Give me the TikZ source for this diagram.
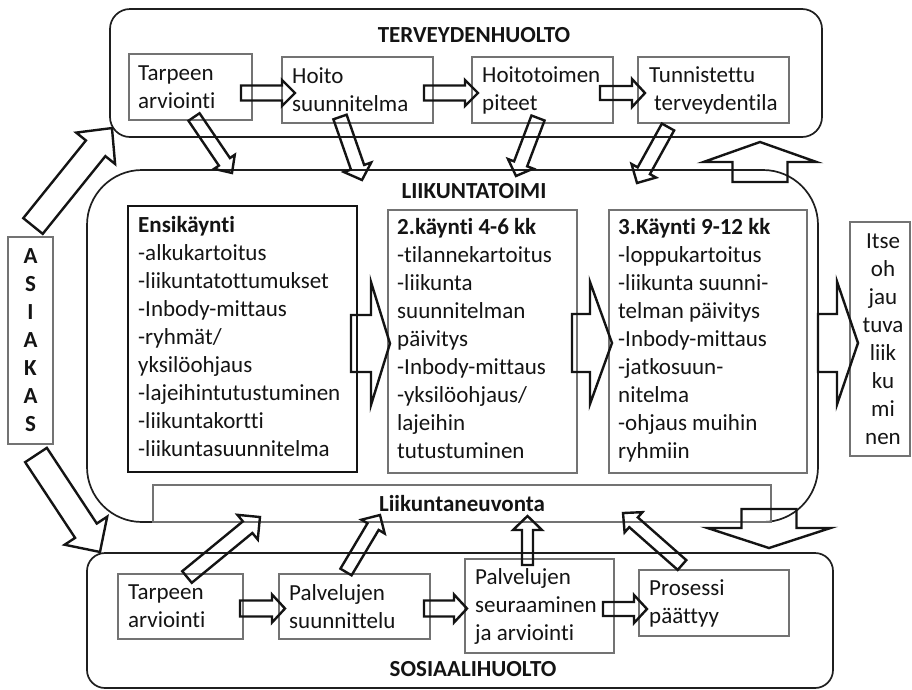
\documentclass[tikz,border=0pt]{standalone}
\usepackage{fontspec}
\setmainfont{Carlito}[Ligatures={NoCommon,NoContextual}]
\usetikzlibrary{calc}
\newcommand\fsz{\fontsize{23}{28}\selectfont}
\newcommand\blockarrow[5]{%
  \path let \p1=(#1), \p2=(#2) in \pgfextra{%
    \pgfmathsetmacro\baTmpA{atan2((\y2)-(\y1),(\x2)-(\x1))}%
    \pgfmathsetmacro\baTmpL{veclen((\x2)-(\x1),(\y2)-(\y1))}%
    \xdef\baAng{\baTmpA}\xdef\baLen{\baTmpL}%
    \xdef\baX{\x1}\xdef\baY{\y1}};%
  \draw[blockarr, shift={(\baX,\baY)}, rotate=\baAng]
    (0pt,-#3pt) -- ({\baLen pt-#5pt},-#3pt) -- ({\baLen pt-#5pt},-#4pt) -- (\baLen pt,0pt)
    -- ({\baLen pt-#5pt},#4pt) -- ({\baLen pt-#5pt},#3pt) -- (0pt,#3pt) -- cycle;%
}
\begin{document}
\begin{tikzpicture}[x=1pt,y=-1pt,
 container/.style={draw=black!88, line width=1.7pt, rounded corners=#1, inner sep=0pt, outer sep=0pt},
 sbox/.style={draw=black!55, line width=1.1pt, inner sep=0pt, outer sep=0pt},
 bigbox/.style={draw=black!55, line width=1.3pt, inner sep=0pt, outer sep=0pt},
 firstbox/.style={draw=black!92, line width=2.8pt, inner sep=0pt, outer sep=0pt},
 txt/.style={font=\fsz, text=black!92, inner sep=0pt, align=left, anchor=west},
 ctxt/.style={font=\fsz, text=black!92, inner sep=0pt, align=center},
 ttl/.style={font=\fsz\bfseries, text=black!92, inner sep=0pt},
 blockarr/.style={draw=black!92, line width=2.4pt, line join=miter, miter limit=10},
]
\useasboundingbox (0,0) rectangle (912,689);
\fill[white] (0,0) rectangle (912,689);

% containers
\node[container=20pt, minimum width=712pt, minimum height=128pt] (terv) at (466,73) {};
\node[container=55pt, minimum width=731pt, minimum height=352pt] (liik) at (452.5,346) {};
\node[container=18pt, minimum width=746pt, minimum height=135pt] (sos) at (460,620.5) {};

\node[ttl] (ttlT) at (474,35) {TERVEYDENHUOLTO};
\node[ttl] (ttlL) at (474,191) {LIIKUNTATOIMI};
\node[ttl] (ttlS) at (473,669) {SOSIAALIHUOLTO};

\node[sbox, minimum width=618pt, minimum height=37pt, font=\fsz\bfseries, text=black!92] (neuv) at (462,503.5) {Liikuntaneuvonta};

% top boxes
\node[sbox, minimum width=123pt, minimum height=66pt] (t1) at (190.5,87) {};
\node[txt] (t1l) at ($(t1.west)+(9,0)$) {Tarpeen\\arviointi};
\node[sbox, minimum width=151pt, minimum height=66pt] (t2) at (357.5,90) {};
\node[txt] (t2l) at ($(t2.west)+(10,0)$) {Hoito\\suunnitelma};
\node[sbox, minimum width=141pt, minimum height=66pt] (t3) at (542.5,90) {};
\node[txt] (t3l) at ($(t3.west)+(10,0)$) {Hoitotoimen\\piteet};
\node[sbox, minimum width=151pt, minimum height=66pt] (t4) at (713.5,90) {};
\node[txt] (t4l) at ($(t4.west)+(11,0)$) {Tunnistettu\\\hspace*{5pt}terveydentila};

% big boxes
\node[firstbox, minimum width=229pt, minimum height=266pt] (k1) at (242.5,339) {};
\node[txt] (k1l) at ($(k1.west)+(10,-2)$) {\textbf{Ensikäynti}\\-alkukartoitus\\-liikuntatottumukset\\-Inbody-mittaus\\-ryhmät/\\yksilöohjaus\\-lajeihintutustuminen\\-liikuntakortti\\-liikuntasuunnitelma};
\node[bigbox, minimum width=189pt, minimum height=263pt] (k2) at (482.5,341.5) {};
\node[txt] (k2l) at ($(k2.west)+(9,-3)$) {\textbf{2.käynti 4-6 kk}\\-tilannekartoitus\\-liikunta\\suunnitelman\\päivitys\\-Inbody-mittaus\\-yksilöohjaus/\\lajeihin\\tutustuminen};
\node[bigbox, minimum width=198pt, minimum height=263pt] (k3) at (708,341.5) {};
\node[txt] (k3l) at ($(k3.west)+(9,-1)$) {\textbf{3.Käynti 9-12 kk}\\-loppukartoitus\\-liikunta suunni-\\telman päivitys\\-Inbody-mittaus\\-jatkosuun-\\nitelma\\-ohjaus muihin\\ryhmiin};

\node[sbox, minimum width=60pt, minimum height=234pt] (itse) at (880,339) {};
\node[ctxt] (itsel) at (883,339) {Itse\\oh\\jau\\tuva\\liik\\ku\\mi\\nen};

\node[sbox, minimum width=45pt, minimum height=207pt] (asi) at (30.5,340.5) {};
\node[ctxt, font=\fsz\bfseries] (asil) at (30.5,340.5) {A\\S\\I\\A\\K\\A\\S};

% bottom boxes
\node[sbox, minimum width=125pt, minimum height=65pt] (b1) at (180.5,606.5) {};
\node[txt] (b1l) at ($(b1.west)+(10,0)$) {Tarpeen\\arviointi};
\node[sbox, minimum width=151pt, minimum height=65pt] (b2) at (354.5,606.5) {};
\node[txt] (b2l) at ($(b2.west)+(10,0)$) {Palvelujen\\suunnittelu};
\node[sbox, minimum width=149pt, minimum height=94pt] (b3) at (539.5,606) {};
\node[txt] (b3l) at ($(b3.west)+(10,0)$) {Palvelujen\\seuraaminen\\ja arviointi};
\node[sbox, minimum width=150pt, minimum height=66pt] (b4) at (714,603) {};
\node[txt] (b4l) at ($(b4.west)+(10,0)$) {Prosessi\\päättyy};

% arrow end points
\coordinate (a1s) at (241,93);   \coordinate (a1e) at (295,93);
\coordinate (a2s) at (424,93);   \coordinate (a2e) at (478,93);
\coordinate (a3s) at (600,93);   \coordinate (a3e) at (645,93);
\coordinate (c1s) at (240,608.5);\coordinate (c1e) at (285,608.5);
\coordinate (c2s) at (424,608.5);\coordinate (c2e) at (467,608.5);
\coordinate (c3s) at (603,609);  \coordinate (c3e) at (647,609);
\coordinate (d1s) at (194,117);  \coordinate (d1e) at (232,173);
\coordinate (d2s) at (340,117);  \coordinate (d2e) at (362,180);
\coordinate (d3s) at (538,118);  \coordinate (d3e) at (516,176);
\coordinate (d4s) at (668,127);  \coordinate (d4e) at (637,183);
\coordinate (e1s) at (187,577);  \coordinate (e1e) at (260,517);
\coordinate (e2s) at (346,572);  \coordinate (e2e) at (380,515);
\coordinate (e3s) at (527.5,565);\coordinate (e3e) at (527.5,516);
\coordinate (e4s) at (682,565);  \coordinate (e4e) at (623,513);
\coordinate (g1s) at (33,226);   \coordinate (g1e) at (112,128);
\coordinate (g2s) at (36,455);   \coordinate (g2e) at (100,552);
\coordinate (g3s) at (760,182);  \coordinate (g3e) at (760,142);
\coordinate (g4s) at (769,509);  \coordinate (g4e) at (769,548);
\coordinate (h1s) at (351,343.5);\coordinate (h1e) at (390,343.5);
\coordinate (h2s) at (572,343);  \coordinate (h2e) at (612,343);
\coordinate (h3s) at (818,343);  \coordinate (h3e) at (858,343);

% small horizontal arrows
\blockarrow{a1s}{a1e}{7.5}{13}{13}
\blockarrow{a2s}{a2e}{7.5}{13}{13}
\blockarrow{a3s}{a3e}{7}{14}{13}
\blockarrow{c1s}{c1e}{8}{14}{13}
\blockarrow{c2s}{c2e}{8}{14}{13}
\blockarrow{c3s}{c3e}{7}{14}{13}
% diagonal arrows
\blockarrow{d1s}{d1e}{6.7}{12.5}{13.5}
\blockarrow{d2s}{d2e}{7}{14.5}{13.5}
\blockarrow{d3s}{d3e}{7}{13.5}{13}
\blockarrow{d4s}{d4e}{7}{14}{14}
\blockarrow{e1s}{e1e}{7.5}{16}{16}
\blockarrow{e2s}{e2e}{6.5}{13.5}{13.5}
\blockarrow{e3s}{e3e}{5.5}{14.5}{14}
\blockarrow{e4s}{e4e}{6.5}{13.5}{14}
% big arrows
\blockarrow{g1s}{g1e}{12.5}{25}{26}
\blockarrow{g2s}{g2e}{13}{25.5}{25.5}
\blockarrow{g3s}{g3e}{27.5}{56.5}{20}
\blockarrow{g4s}{g4e}{27.5}{61.5}{20}
\blockarrow{h1s}{h1e}{28.5}{61.5}{19}
\blockarrow{h2s}{h2e}{29}{61}{22}
\blockarrow{h3s}{h3e}{29}{61.5}{21}
\end{tikzpicture}
\end{document}
